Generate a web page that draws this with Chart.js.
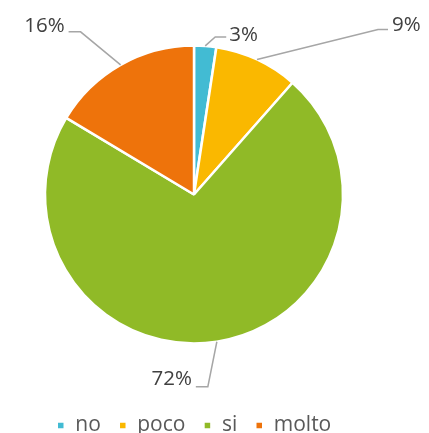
<!DOCTYPE html>
<html>
<head>
<meta charset="utf-8">
<script src="https://cdn.jsdelivr.net/npm/chart.js@4"></script>
<style>
  html, body { margin: 0; padding: 0; background: #fff; overflow: hidden; height: 433px; }
  #wrap { width: 429px; height: 454px; margin-top: -8px; position: relative; }
</style>
</head>
<body>
<div id="wrap"><canvas id="pie"></canvas></div>
<script>
const categories = ['no', 'poco', 'si', 'molto'];
const values = [2.4, 9.1, 72.1, 16.4];
const valueLabels = ['3%', '9%', '72%', '16%'];
const colors = ['#42BBD3', '#FAB800', '#90BA27', '#EE730B'];

// leader line shape per slice: elbow, end, text offset (relative), text align
const leaders = [
  { elbow: [10, -9], end: [21, -9], text: [3, -2], align: 'left' },
  { elbow: [121, -30], end: [131, -30], text: [4, -4], align: 'left' },
  { elbow: [-9, 45], end: [-21, 45], text: [-4, -8], align: 'right' },
  { elbow: [-40, -33], end: [-52, -33], text: [-4, -6], align: 'right' }
];

const leaderLabels = {
  id: 'leaderLabels',
  afterDatasetsDraw(chart) {
    const ctx = chart.ctx;
    const meta = chart.getDatasetMeta(0);
    meta.data.forEach((arc, i) => {
      const { x, y, startAngle, endAngle, outerRadius } = arc.getProps(['x', 'y', 'startAngle', 'endAngle', 'outerRadius'], true);
      const mid = (startAngle + endAngle) / 2;
      const ax = x + Math.cos(mid) * outerRadius;
      const ay = y + Math.sin(mid) * outerRadius;
      const l = leaders[i];
      ctx.save();
      ctx.strokeStyle = '#A6A6A6';
      ctx.lineWidth = 1.5;
      ctx.beginPath();
      ctx.moveTo(ax, ay);
      ctx.lineTo(ax + l.elbow[0], ay + l.elbow[1]);
      ctx.lineTo(ax + l.end[0], ay + l.end[1]);
      ctx.stroke();
      ctx.fillStyle = '#404040';
      ctx.font = '20.5px "Open Sans"';
      ctx.textAlign = l.align;
      ctx.textBaseline = 'middle';
      ctx.fillText(valueLabels[i], ax + l.end[0] + l.text[0], ay + l.end[1] + l.text[1]);
      ctx.restore();
    });
  }
};

new Chart(document.getElementById('pie'), {
  type: 'pie',
  data: {
    labels: categories,
    datasets: [{
      data: values,
      backgroundColor: colors,
      borderColor: '#ffffff',
      borderWidth: 2.5,
      radius: 149
    }]
  },
  options: {
    responsive: true,
    maintainAspectRatio: false,
    animation: false,
    layout: {
      padding: { top: 0, left: 0, right: 41, bottom: 0 }
    },
    plugins: {
      tooltip: { enabled: false },
      legend: {
        position: 'bottom',
        labels: {
          color: '#595959',
          font: { family: '"Open Sans"', size: 21 },
          boxWidth: 8,
          boxHeight: 8,
          padding: 18
        }
      }
    }
  },
  plugins: [leaderLabels]
});
</script>
</body>
</html>
